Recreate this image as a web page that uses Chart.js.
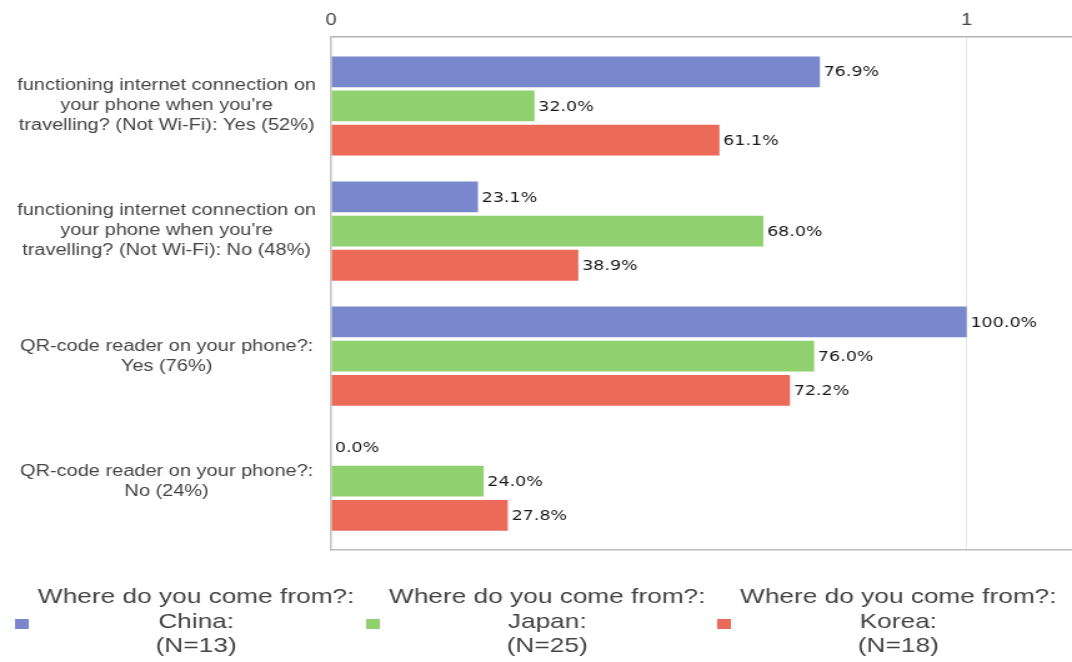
<!DOCTYPE html>
<html>
<head>
<meta charset="utf-8">
<script src="https://cdn.jsdelivr.net/npm/chart.js@4/dist/chart.umd.min.js"></script>
<style>
  html, body { margin: 0; padding: 0; background: #fff; overflow: hidden; }
  canvas { display: block; }
</style>
</head>
<body>
<!-- drawn at a narrower width and widened by CSS, giving the wide lettering of the original export -->
<canvas id="chart" width="858" height="662" style="width:1072px;height:662px"></canvas>
<script>
// Answer categories (multi-line axis labels)
const categories = [
  ['functioning internet connection on', "your phone when you're", 'travelling? (Not Wi-Fi): Yes (52%)'],
  ['functioning internet connection on', "your phone when you're", 'travelling? (Not Wi-Fi): No (48%)'],
  ['QR-code reader on your phone?:', 'Yes (76%)'],
  ['QR-code reader on your phone?:', 'No (24%)']
];

// Respondent groups
const seriesNames = [
  ['Where do you come from?:', 'China:', '(N=13)'],
  ['Where do you come from?:', 'Japan:', '(N=25)'],
  ['Where do you come from?:', 'Korea:', '(N=18)']
];

// Share of each group giving the answer (fraction of 1)
const china = [0.769, 0.231, 1.000, 0.000];
const japan = [0.320, 0.680, 0.760, 0.240];
const korea = [0.611, 0.389, 0.722, 0.278];
const seriesValues = [china, japan, korea];

const xTicks = [0, 1];
const colors = ['#7987cc', '#8fd06f', '#eb6a58'];

const labelFont = '"Liberation Sans", Arial, sans-serif';

// Percentage labels at the end of each bar
const valueLabels = {
  id: 'valueLabels',
  afterDatasetsDraw(chart) {
    const ctx = chart.ctx;
    ctx.save();
    ctx.font = '14px "DejaVu Sans", Verdana, sans-serif';
    ctx.fillStyle = '#1a1a1a';
    ctx.textAlign = 'left';
    ctx.textBaseline = 'middle';
    chart.data.datasets.forEach((ds, di) => {
      chart.getDatasetMeta(di).data.forEach((bar, i) => {
        const v = seriesValues[di][i];
        ctx.fillText((v * 100).toFixed(1) + '%', bar.x + 3, bar.y + 1);
      });
    });
    ctx.restore();
  }
};

// Legend with three stacked lines per entry, laid out in a row under the plot
const stackedLegend = {
  id: 'stackedLegend',
  afterDraw(chart) {
    const ctx = chart.ctx;
    const area = chart.chartArea;
    const spacing = 281;
    const baseY = area.bottom + 53;
    ctx.save();
    chart.data.datasets.forEach((ds, i) => {
      const left = 12 + i * spacing;
      ctx.fillStyle = ds.backgroundColor;
      ctx.fillRect(left, baseY + 16, 11, 10);
      ctx.fillStyle = '#444';
      ctx.font = '21px ' + labelFont;
      ctx.textAlign = 'center';
      ctx.textBaseline = 'alphabetic';
      seriesNames[i].forEach((line, j) => {
        ctx.fillText(line, 157 + i * spacing, baseY + j * 24.5);
      });
    });
    ctx.restore();
  }
};

new Chart(document.getElementById('chart'), {
  type: 'bar',
  data: {
    datasets: seriesValues.map((vals, i) => ({
      label: seriesNames[i].join(' '),
      data: vals.map((v, k) => ({ x: v, y: k })),
      backgroundColor: colors[i],
      borderWidth: 0,
      categoryPercentage: 0.82,
      barPercentage: 0.9
    }))
  },
  options: {
    indexAxis: 'y',
    responsive: false,
    devicePixelRatio: 1,
    animation: false,
    layout: { padding: { top: 4, bottom: 112, left: 0, right: 0 } },
    plugins: {
      legend: { display: false },
      tooltip: { enabled: false }
    },
    scales: {
      x: {
        type: 'linear',
        position: 'top',
        min: 0,
        max: 1.1657,
        afterBuildTicks: s => { s.ticks = xTicks.map(v => ({ value: v })); },
        ticks: {
          color: '#444',
          font: { family: labelFont, size: 16 },
          padding: 7
        },
        grid: {
          drawTicks: false,
          color: c => (c.tick && c.tick.value === 0 ? 'rgba(0,0,0,0)' : '#e6e6e6'),
          lineWidth: 1
        },
        border: { display: true, color: '#b4b4b4', width: 1.5 }
      },
      xBottom: {
        type: 'linear',
        position: 'bottom',
        ticks: { display: false },
        grid: { display: false, drawTicks: false },
        border: { display: true, color: '#bdbdbd', width: 1.5 }
      },
      y: {
        type: 'linear',
        offset: false,
        min: -0.55,
        max: 3.55,
        reverse: true,
        afterBuildTicks: s => { s.ticks = categories.map((_, i) => ({ value: i })); },
        afterFit: s => { s.width = 265; },
        ticks: {
          callback: v => categories[v],
          color: '#444',
          crossAlign: 'center',
          padding: 12,
          font: { family: labelFont, size: 16, lineHeight: 1.25 }
        },
        grid: { display: false, drawTicks: false, offset: false },
        border: { display: true, color: '#c6c6c6', width: 1.6 }
      }
    }
  },
  plugins: [valueLabels, stackedLegend]
});
</script>
</body>
</html>
